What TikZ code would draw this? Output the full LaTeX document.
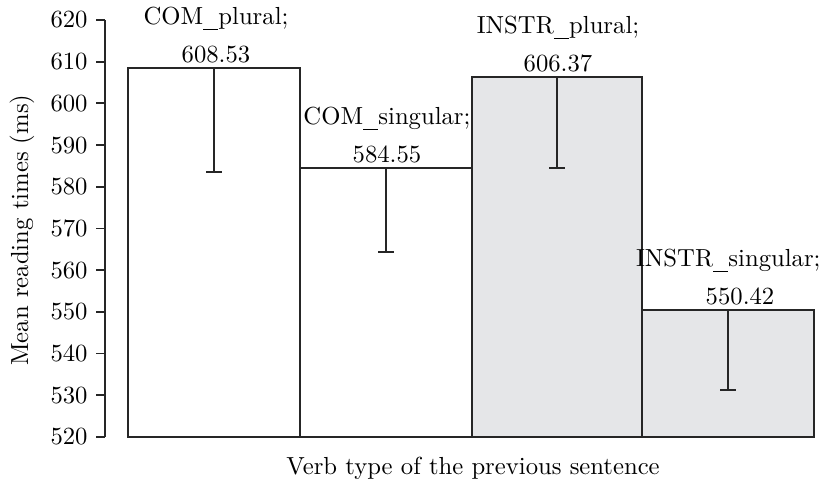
\documentclass[tikz,border=0pt]{standalone}
\usepackage{tikz}
\usetikzlibrary{positioning}
\definecolor{barfill}{RGB}{229,230,232}
\newcommand{\catsep}{\rule[-2.2pt]{6.5pt}{0.45pt}}

\begin{document}
\begin{tikzpicture}
	[x=0.4255pt,y=1.774pt,font=\fontsize{10.5}{12.6}\selectfont,
	bar/.style={draw=black!85,line width=0.8pt},
	errbar/.style={draw=black!85,line width=0.8pt},
	val/.style={anchor=south,inner sep=2pt},
	cat/.style={anchor=base,inner sep=0pt}]
	\useasboundingbox (0,508.25) rectangle (825,624.8);
	
	% axis
	\draw [bar] (105,520) -- (105,620);
	\foreach \t in {520,530,...,620}
	{\draw [bar] (96,\t) -- (105,\t);
	 \node [anchor=east,inner sep=0pt] at (88,\t) {\t};}
	
	% bars
	\draw [bar,fill=white] (128,520) rectangle (300,608.53);
	\draw [bar,fill=white] (300,520) rectangle (472,584.55);
	\draw [bar,fill=barfill] (472,520) rectangle (642,606.37);
	\draw [bar,fill=barfill] (642,520) rectangle (814,550.42);
	
	% error bars
	\draw [errbar] (214,608.53) -- (214,583.55) (206,583.55) -- (222,583.55);
	\draw [errbar] (386,584.55) -- (386,564.4) (378,564.4) -- (394,564.4);
	\draw [errbar] (557,606.37) -- (557,584.6) (549,584.6) -- (565,584.6);
	\draw [errbar] (728,550.42) -- (728,531.3) (720,531.3) -- (736,531.3);
	
	% labels
	\node (v1) [val] at (216,608.53) {608.53};
	\node (v2) [val] at (387,584.55) {584.55};
	\node (v3) [val] at (558,606.37) {606.37};
	\node (v4) [val] at (740,550.42) {550.42};
	
	\node (c1) [cat] at ([yshift=16pt]v1.base) {COM\catsep plural;};
	\node (c2) [cat] at ([yshift=16pt]v2.base) {COM\catsep singular;};
	\node (c3) [cat] at ([yshift=16pt]v3.base) {INSTR\catsep plural;};
	\node (c4) [cat,anchor=base east] at ([yshift=16pt]v4.base -| 821,0) {INSTR\catsep singular;};
	
	\node (ylab) [rotate=90] at (22,569.6) {Mean reading times (ms)};
	\node (xlab) at (473,512.57) {Verb type of the previous sentence};
\end{tikzpicture}
\end{document}
